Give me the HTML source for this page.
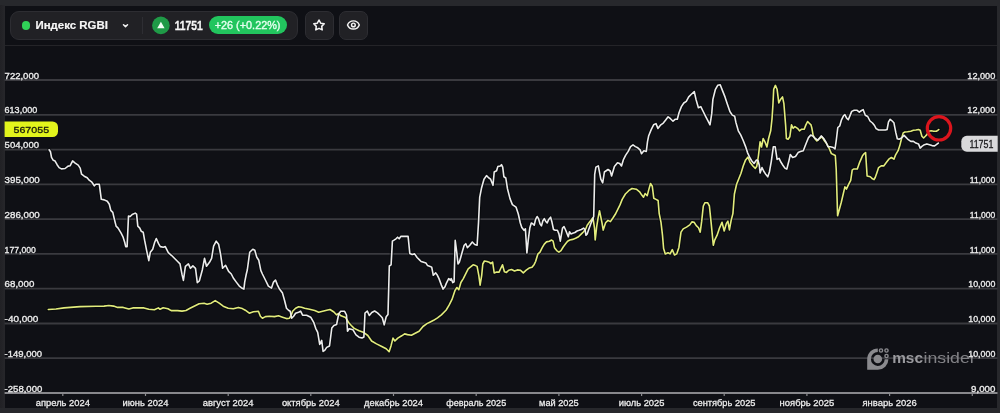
<!DOCTYPE html>
<html><head><meta charset="utf-8"><style>
*{margin:0;padding:0;box-sizing:border-box}
html,body{width:1000px;height:413px;overflow:hidden;background:#27282c}
.lf{position:absolute;left:0;top:5px;width:4.6px;height:403px;background:linear-gradient(to right,#212125,#242428 60%,#27272b)}
body{position:relative;font-family:"Liberation Sans",Arial,sans-serif;color:#fff}
.panel{position:absolute;left:4.6px;top:5.5px;width:992.9px;height:402.3px;background:#0f1015}
.hline{position:absolute;left:4.6px;top:44.6px;width:992.9px;height:1.6px;background:#242428}
.pill{position:absolute;left:10px;top:11px;width:288px;height:28.5px;border-radius:9px;background:#212125;border:1px solid #2d2d32}
.btn{position:absolute;top:11px;width:29px;height:28.5px;border-radius:7px;background:#212125;border:1px solid #2d2d32}
.dot{position:absolute;left:22.2px;top:21.4px;width:8.2px;height:8.2px;border-radius:50%;background:#30d158}
.div{position:absolute;left:142.3px;top:17px;width:1px;height:16.5px;background:#2e2e33}
.badge{position:absolute;left:208.7px;top:16.4px;width:78.2px;height:17.8px;border-radius:9px;background:#22c55e}
svg{position:absolute;left:0;top:0}
.g{stroke:#3a3a3f;stroke-width:1.8}
.ax{stroke:#88888c;stroke-width:1.8}
.tk{stroke:#8a8a8e;stroke-width:1.2}
text{font-family:"Liberation Sans",Arial,sans-serif}
.yl{font-size:9.9px;fill:#ececec;stroke:#ececec;stroke-width:0.35px}
.xl{font-size:9.9px;fill:#ececec;stroke:#ececec;stroke-width:0.3px}
.hb{font-weight:bold;fill:#f6f6f6}
</style></head><body>
<div class="lf"></div>
<div class="panel"></div>
<div class="hline"></div>
<div class="pill"></div>
<div class="dot"></div>
<div class="div"></div>
<div class="badge"></div>
<div class="btn" style="left:305px"></div>
<div class="btn" style="left:339px"></div>
<svg width="1000" height="413" viewBox="0 0 1000 413">
<text x="35.5" y="29.3" class="hb" style="font-size:11.6px;stroke:#f6f6f6;stroke-width:0.2px" textLength="72.4" lengthAdjust="spacingAndGlyphs">Индекс RGBI</text>
<path d="M123.5 24.7L125.5 26.6L127.5 24.7" fill="none" stroke="#f4f4f4" stroke-width="1.5" stroke-linecap="round" stroke-linejoin="round"/>
<circle cx="160.9" cy="25.4" r="8.8" fill="#1f9a47"/>
<path d="M160.9 21.8L164.6 28.2L157.2 28.2Z" fill="#f2fff5"/>
<text x="174.7" y="29.6" class="hb" style="font-size:12.2px;stroke:#f6f6f6;stroke-width:0.3px" textLength="28" lengthAdjust="spacingAndGlyphs">11751</text>
<text x="214.7" y="29.2" style="font-size:11.2px;fill:#e6fff0;stroke:#e6fff0;stroke-width:0.35px" textLength="65.8" lengthAdjust="spacingAndGlyphs">+26 (+0.22%)</text>
<path d="M319.00 20.00L320.68 23.19L324.23 23.80L321.71 26.38L322.23 29.95L319.00 28.35L315.77 29.95L316.29 26.38L313.77 23.80L317.32 23.19Z" fill="none" stroke="#f4f4f4" stroke-width="1.5" stroke-linejoin="round"/>
<path d="M347.5 24.95C348.5 22.4 350.7 20.85 353.4 20.85C356.1 20.85 358.3 22.4 359.3 24.95C358.3 27.5 356.1 29.05 353.4 29.05C350.7 29.05 348.5 27.5 347.5 24.95Z" fill="none" stroke="#f4f4f4" stroke-width="1.45" stroke-linejoin="round"/>
<circle cx="353.4" cy="24.95" r="1.85" fill="none" stroke="#f4f4f4" stroke-width="1.45"/>
</svg>
<svg width="1000" height="413" viewBox="0 0 1000 413">
<line x1="4.6" x2="997.5" y1="80.0" y2="80.0" class="g"/><line x1="4.6" x2="997.5" y1="114.8" y2="114.8" class="g"/><line x1="4.6" x2="997.5" y1="149.6" y2="149.6" class="g"/><line x1="4.6" x2="997.5" y1="184.3" y2="184.3" class="g"/><line x1="4.6" x2="997.5" y1="219.1" y2="219.1" class="g"/><line x1="4.6" x2="997.5" y1="253.9" y2="253.9" class="g"/><line x1="4.6" x2="997.5" y1="288.7" y2="288.7" class="g"/><line x1="4.6" x2="997.5" y1="323.5" y2="323.5" class="g"/><line x1="4.6" x2="997.5" y1="358.2" y2="358.2" class="g"/>
<line x1="4.6" x2="997.5" y1="393.0" y2="393.0" class="ax"/><line x1="62.8" x2="62.8" y1="393.0" y2="396.0" class="tk"/><line x1="145.5" x2="145.5" y1="393.0" y2="396.0" class="tk"/><line x1="228.2" x2="228.2" y1="393.0" y2="396.0" class="tk"/><line x1="310.8" x2="310.8" y1="393.0" y2="396.0" class="tk"/><line x1="393.5" x2="393.5" y1="393.0" y2="396.0" class="tk"/><line x1="476.2" x2="476.2" y1="393.0" y2="396.0" class="tk"/><line x1="558.9" x2="558.9" y1="393.0" y2="396.0" class="tk"/><line x1="641.6" x2="641.6" y1="393.0" y2="396.0" class="tk"/><line x1="724.2" x2="724.2" y1="393.0" y2="396.0" class="tk"/><line x1="806.9" x2="806.9" y1="393.0" y2="396.0" class="tk"/><line x1="889.6" x2="889.6" y1="393.0" y2="396.0" class="tk"/><line x1="972.3" x2="972.3" y1="393.0" y2="396.0" class="tk"/>
<g fill="#8a8a8e">
<path d="M877.8 348.4A10.6 10.6 0 0 0 867.2 359L867.2 369.8L877.8 369.8A10.6 10.6 0 0 0 888.4 359.2L884.7 359.2A6.9 6.9 0 1 1 877.8 352.1Z"/>
<circle cx="877.8" cy="359" r="4.3"/>
<g fill="none" stroke="#8a8a8e" stroke-width="1.4"><circle cx="881" cy="350.5" r="1.6"/><circle cx="886.5" cy="350.5" r="1.6"/><circle cx="886.5" cy="356" r="1.6"/></g>
<text x="892.2" y="363.3" style="font-size:15.5px;font-weight:bold;fill:#9a9a9e" textLength="30.8" lengthAdjust="spacingAndGlyphs">msc</text><text x="923.6" y="363.3" style="font-size:15.5px;fill:#828286" textLength="52" lengthAdjust="spacingAndGlyphs">insider</text>
</g>
<path d="M48.3 309.5L56.0 309.0L64.0 307.9L80.0 306.6L96.0 306.3L104.0 306.1L108.8 305.5L113.6 306.1L117.6 307.4L123.2 307.4L128.8 309.0L132.8 307.9L144.0 307.9L148.8 309.3L154.4 309.8L158.4 307.9L160.0 309.3L163.2 307.7L168.0 308.7L171.2 310.6L177.6 310.6L182.0 311.1L186.0 310.5L190.0 308.3L194.1 306.2L199.1 303.8L204.1 303.2L207.1 304.2L211.2 303.2L215.2 300.6L219.2 303.2L223.2 306.2L228.2 308.2L233.3 308.8L238.3 307.4L242.3 308.6L245.3 310.2L249.3 313.2L253.4 311.8L258.4 311.2L260.4 316.2L262.4 318.2L265.4 316.6L269.4 316.2L274.5 316.6L278.5 315.8L282.5 317.2L286.5 318.6L289.5 318.2L291.2 315.2L292.6 311.2L295.6 308.2L298.6 306.8L301.6 307.2L304.6 308.2L309.6 309.2L314.7 310.6L318.7 312.2L322.7 311.2L326.7 310.2L330.0 309.5L333.9 312.0L336.5 314.8L338.5 313.5L341.0 315.8L345.6 317.5L348.6 322.5L351.3 325.5L354.2 328.4L359.1 330.8L363.9 332.6L367.8 335.5L371.6 341.0L376.5 343.9L381.3 346.2L386.2 348.8L389.1 351.7L391.0 345.9L393.0 338.1L394.9 341.0L397.8 338.1L401.7 335.8L404.6 333.9L407.5 334.6L411.4 335.2L415.2 333.3L419.1 331.3L423.0 326.5L426.9 323.6L429.8 322.2L433.6 320.3L437.5 317.8L441.4 314.9L446.2 310.0L449.1 305.2L452.0 299.4L454.9 290.7L456.9 287.5L458.8 289.7L460.9 282.5L463.3 278.6L465.8 273.7L468.2 268.8L470.6 266.9L473.1 264.8L475.5 265.6L477.1 266.4L478.8 275.3L480.1 285.1L481.7 275.3L482.8 264.0L484.4 261.0L486.9 261.5L489.3 262.3L490.9 263.6L492.6 262.0L494.2 272.9L496.6 272.1L499.1 272.1L500.7 268.5L502.5 264.8L504.4 271.7L506.5 272.4L508.7 270.2L511.6 269.5L514.5 271.0L517.4 269.9L520.3 270.2L523.3 272.8L526.2 270.2L529.1 268.1L532.0 267.3L534.2 264.4L535.6 261.5L537.8 254.2L540.0 252.1L542.2 247.7L544.3 244.1L546.5 241.9L549.4 241.2L551.6 240.0L553.1 241.2L554.5 247.7L556.7 250.6L558.9 252.1L561.0 250.6L563.2 247.0L565.4 244.1L567.6 241.2L569.8 240.0L572.7 239.4L575.6 238.3L578.5 236.8L581.4 233.9L583.6 231.7L585.8 228.8L587.2 225.2L589.4 222.3L591.6 219.4L593.0 217.9L594.5 228.1L595.2 240.0L596.7 226.6L598.1 217.9L599.5 210.7L602.0 222.8L603.2 230.1L605.6 222.8L608.0 220.4L610.4 221.6L612.9 218.0L615.3 214.3L618.9 207.1L620.0 204.9L622.2 199.4L625.4 194.0L628.7 190.7L632.0 188.5L636.3 189.2L639.6 191.8L641.8 195.1L643.5 197.2L645.1 193.5L647.2 195.7L648.8 189.6L650.5 183.5L652.3 186.3L653.8 198.3L656.0 199.4L658.1 200.5L659.2 213.6L661.0 222.3L662.5 235.4L663.6 248.5L665.3 253.9L668.0 252.8L670.1 253.9L672.3 249.6L674.5 255.0L676.7 253.9L678.9 247.4L681.0 232.1L683.2 228.9L686.5 227.1L689.8 224.9L691.9 221.9L694.1 222.3L696.3 225.6L698.5 227.8L700.2 232.1L701.7 221.2L703.3 206.0L705.0 202.7L707.6 202.7L709.4 206.0L711.1 222.3L713.3 245.2L714.8 239.8L717.0 235.4L719.2 228.9L722.0 222.3L724.2 231.0L726.4 223.4L727.9 221.2L729.4 229.9L731.2 220.1L732.9 213.6L734.4 194.0L736.6 184.2L738.8 178.7L741.0 173.3L743.2 166.0L745.6 159.9L748.0 157.0L750.0 162.3L752.9 166.0L755.3 168.4L756.8 166.2L758.4 156.0L760.1 141.7L761.5 147.0L763.2 138.5L765.3 142.7L766.9 147.0L768.6 138.5L770.7 130.8L772.0 119.0L772.9 105.4L773.7 89.3L775.4 85.4L777.1 89.3L778.8 102.9L780.5 99.5L782.5 96.9L783.9 103.7L785.6 124.9L786.4 138.5L788.1 139.3L789.8 136.8L791.5 124.9L793.2 128.3L794.9 126.6L797.5 128.3L799.5 130.8L801.7 129.2L804.2 129.2L805.9 124.9L807.6 121.5L809.3 123.2L811.0 124.9L811.9 128.3L813.1 135.1L814.7 138.5L816.9 141.0L819.5 138.5L822.0 136.8L824.6 141.0L827.1 144.4L829.2 148.5L831.4 153.6L833.3 154.5L835.3 155.5L836.2 169.1L837.6 215.7L841.3 202.2L844.9 186.9L846.4 189.1L848.5 184.7L850.7 180.3L852.2 170.2L853.6 169.0L857.3 169.0L859.4 162.9L861.4 158.4L862.5 155.8L864.3 153.6L865.6 152.5L867.1 176.0L870.3 176.7L872.5 178.9L874.0 179.6L875.2 177.5L876.9 172.7L878.6 167.6L881.2 165.9L883.7 165.9L886.3 162.5L888.8 159.2L891.4 157.5L893.9 159.2L895.6 154.9L898.1 150.7L899.8 145.6L901.5 138.8L903.2 132.9L904.9 132.0L907.5 131.7L910.8 131.2L913.4 130.3L915.9 130.0L918.5 129.5L920.2 130.3L921.9 136.3L923.6 138.0L925.3 136.3L926.9 134.6L928.6 131.2L931.2 130.7L933.7 131.2L936.3 131.2L938.0 130.3L938.8 129.5" fill="none" stroke="#06070a" stroke-opacity="0.55" stroke-width="4" stroke-linejoin="round" stroke-linecap="round"/>
<path d="M49.1 149.8L50.5 151.8L51.5 157.4L53.3 160.3L55.1 161.1L57.1 164.7L59.1 167.6L61.4 168.9L65.1 168.5L68.1 166.1L70.2 165.7L72.6 160.9L75.2 163.1L78.2 165.1L80.2 168.1L81.6 174.2L84.2 176.2L87.2 177.8L89.2 180.2L91.9 182.2L94.3 185.8L95.9 184.2L99.3 184.2L101.3 199.3L104.3 199.9L107.3 201.3L109.3 204.3L110.8 210.4L112.8 212.4L114.1 218.1L116.1 226.1L118.1 228.1L121.1 233.2L123.1 237.2L124.7 242.2L125.7 246.6L127.1 246.6L128.5 216.1L130.2 216.5L132.2 214.5L135.2 213.1L136.6 214.1L137.8 226.1L139.8 228.1L141.2 231.2L143.2 232.2L144.6 240.2L146.6 250.3L148.8 260.7L150.3 252.3L152.7 249.2L154.7 242.2L156.3 238.6L158.7 243.8L160.3 246.6L163.3 247.2L165.3 246.6L168.3 252.7L171.4 255.3L174.4 258.3L177.4 261.3L180.0 263.9L182.0 274.4L183.4 280.4L185.4 266.3L188.4 263.9L190.5 268.3L192.9 265.9L195.5 268.3L197.3 282.6L199.3 281.0L202.3 270.0L204.5 258.3L206.5 266.3L209.5 262.3L211.6 258.3L213.6 246.2L216.2 241.2L218.6 244.2L220.6 254.3L222.6 268.3L225.6 265.3L228.6 271.4L231.3 274.0L233.3 278.0L236.3 282.1L239.3 286.1L241.3 287.7L243.9 289.1L244.7 282.1L246.3 274.0L247.3 270.0L249.7 252.3L252.8 249.2L254.8 250.3L256.8 257.3L258.8 260.3L260.8 270.4L262.4 274.0L265.4 280.0L268.4 286.1L271.5 288.1L273.5 282.1L275.5 280.0L277.5 285.1L279.5 289.1L282.5 293.1L284.5 300.2L286.5 308.2L288.5 310.2L290.2 311.2L291.6 318.2L293.6 316.2L295.6 313.2L298.6 312.2L300.6 311.2L302.6 315.2L306.6 315.2L310.7 317.2L313.7 322.3L315.7 328.3L317.7 332.3L319.7 344.4L321.7 340.4L323.1 351.4L324.7 350.4L326.7 347.4L329.5 346.0L331.8 328.0L333.9 325.5L336.6 324.5L338.7 314.0L340.7 311.3L344.6 311.3L346.5 315.0L347.5 331.3L349.1 328.8L353.0 329.8L356.0 334.8L359.0 337.2L362.0 338.0L363.9 337.0L365.0 313.0L367.3 311.1L369.3 315.5L371.8 312.5L374.6 311.0L377.5 312.9L380.4 315.8L382.3 317.8L384.2 324.9L386.2 316.8L388.0 314.5L389.3 266.0L391.1 264.8L392.4 241.2L394.4 239.9L396.0 238.8L397.6 237.2L399.2 238.8L400.8 236.4L404.1 236.4L408.1 236.4L409.8 253.4L412.2 254.5L414.6 253.9L417.1 257.5L419.5 259.9L421.1 261.5L423.6 262.3L426.0 263.1L427.6 265.6L430.1 266.4L431.7 267.2L433.3 275.3L435.7 272.9L437.4 275.3L439.0 278.6L441.4 285.1L443.1 289.1L445.0 286.7L446.3 283.4L448.7 278.6L450.4 280.2L451.2 278.6L452.8 282.6L454.1 281.8L455.2 240.4L456.8 252.6L458.0 264.0L459.3 262.3L460.9 256.7L462.5 251.0L464.2 245.3L465.8 243.7L467.4 247.7L469.8 245.3L472.3 242.0L474.7 244.5L477.1 245.3L478.5 222.8L479.7 197.4L481.6 187.7L484.0 179.2L486.5 175.6L488.9 178.0L490.6 179.2L493.0 185.3L494.2 172.0L496.6 170.7L497.8 166.6L500.3 165.9L501.5 164.7L502.7 167.1L503.9 176.8L505.8 178.0L507.5 188.9L510.0 198.6L512.4 204.6L516.0 207.1L518.3 214.0L520.3 223.0L521.8 227.4L524.0 230.3L525.4 228.8L526.9 253.0L528.3 239.7L529.8 228.1L531.3 223.0L532.7 223.7L534.2 225.2L535.6 219.4L537.1 216.5L538.5 218.6L540.0 223.7L541.4 225.9L542.9 220.8L544.3 218.6L545.8 221.5L547.2 223.0L548.7 219.4L550.6 217.2L552.0 222.3L553.5 229.5L555.2 230.3L557.4 230.3L558.9 233.9L560.3 241.2L561.0 236.8L562.5 228.1L564.0 226.6L565.4 229.5L566.9 233.2L568.3 236.8L569.5 231.7L570.9 233.9L572.7 233.2L574.9 232.5L577.0 231.0L579.2 230.3L581.4 229.5L583.6 228.1L585.0 229.5L586.0 235.3L587.2 233.9L588.7 229.5L590.8 223.7L592.3 220.1L593.7 216.5L594.7 174.4L595.9 167.1L598.3 165.9L600.8 179.2L602.7 182.8L604.4 172.0L608.0 169.5L610.2 171.0L611.6 176.0L614.4 166.5L617.5 162.8L619.7 163.5L621.5 166.0L623.3 159.9L625.7 155.1L628.2 151.4L630.6 146.6L633.0 144.9L635.4 146.6L637.8 147.8L640.3 150.2L641.5 153.8L643.9 150.7L646.3 151.4L647.5 141.7L648.7 135.7L651.2 129.6L653.6 124.8L656.0 123.6L657.9 128.4L660.8 124.8L663.3 123.1L665.7 120.0L668.1 116.8L670.5 118.7L673.0 121.2L675.4 119.2L677.3 119.2L679.0 112.7L681.4 106.6L683.8 103.0L686.3 101.3L688.7 96.9L691.1 94.5L694.3 91.6L696.0 99.4L698.4 107.8L700.8 106.6L703.2 111.5L705.6 116.3L708.1 121.2L710.0 124.8L711.7 113.9L712.9 99.4L715.3 89.7L717.7 85.3L720.2 84.8L722.6 90.9L725.0 96.9L727.4 104.2L729.9 111.5L732.3 115.1L734.7 116.3L735.9 122.4L738.3 130.8L740.8 135.2L743.2 140.5L745.6 146.6L747.5 152.6L750.0 158.0L751.8 161.0L754.0 163.5L756.5 160.0L758.0 160.5L759.3 165.2L760.1 173.0L762.0 167.5L763.6 171.0L765.5 173.9L767.8 176.8L769.4 172.0L771.3 161.3L773.3 146.8L775.2 146.8L777.1 159.4L779.1 158.4L781.0 162.3L782.9 165.2L784.9 168.1L786.8 169.1L788.8 161.3L790.3 154.5L792.6 157.4L795.5 156.5L798.1 152.6L800.4 151.6L803.3 150.7L805.2 145.8L806.5 142.5L808.5 137.6L810.7 135.1L812.7 135.9L815.3 138.5L817.8 140.2L821.2 135.9L823.7 138.5L826.3 142.7L828.0 146.8L830.4 146.8L833.3 147.5L835.0 149.0L836.4 139.3L837.8 127.5L839.8 125.8L841.5 119.8L843.6 115.6L844.9 114.7L846.6 118.1L848.3 119.8L850.0 115.6L851.7 111.4L854.2 110.2L856.8 110.2L859.3 112.2L861.5 110.5L863.2 109.7L865.3 115.2L867.7 116.5L870.0 121.0L872.5 123.0L874.5 125.5L876.1 128.6L878.6 130.0L882.0 130.0L885.4 130.0L887.1 129.5L888.5 121.9L890.2 119.3L892.2 121.0L893.9 122.7L894.7 126.9L895.9 132.9L897.3 138.8L899.0 139.2L901.5 138.0L904.1 135.4L905.8 137.1L908.3 139.7L910.8 141.4L913.4 141.4L915.9 143.1L918.5 143.9L920.2 148.1L921.9 146.4L924.4 144.7L926.9 143.9L929.5 144.7L932.0 145.6L934.6 145.9L936.3 144.7L938.3 143.1" fill="none" stroke="#06070a" stroke-opacity="0.55" stroke-width="4" stroke-linejoin="round" stroke-linecap="round"/>
<path d="M48.3 309.5L56.0 309.0L64.0 307.9L80.0 306.6L96.0 306.3L104.0 306.1L108.8 305.5L113.6 306.1L117.6 307.4L123.2 307.4L128.8 309.0L132.8 307.9L144.0 307.9L148.8 309.3L154.4 309.8L158.4 307.9L160.0 309.3L163.2 307.7L168.0 308.7L171.2 310.6L177.6 310.6L182.0 311.1L186.0 310.5L190.0 308.3L194.1 306.2L199.1 303.8L204.1 303.2L207.1 304.2L211.2 303.2L215.2 300.6L219.2 303.2L223.2 306.2L228.2 308.2L233.3 308.8L238.3 307.4L242.3 308.6L245.3 310.2L249.3 313.2L253.4 311.8L258.4 311.2L260.4 316.2L262.4 318.2L265.4 316.6L269.4 316.2L274.5 316.6L278.5 315.8L282.5 317.2L286.5 318.6L289.5 318.2L291.2 315.2L292.6 311.2L295.6 308.2L298.6 306.8L301.6 307.2L304.6 308.2L309.6 309.2L314.7 310.6L318.7 312.2L322.7 311.2L326.7 310.2L330.0 309.5L333.9 312.0L336.5 314.8L338.5 313.5L341.0 315.8L345.6 317.5L348.6 322.5L351.3 325.5L354.2 328.4L359.1 330.8L363.9 332.6L367.8 335.5L371.6 341.0L376.5 343.9L381.3 346.2L386.2 348.8L389.1 351.7L391.0 345.9L393.0 338.1L394.9 341.0L397.8 338.1L401.7 335.8L404.6 333.9L407.5 334.6L411.4 335.2L415.2 333.3L419.1 331.3L423.0 326.5L426.9 323.6L429.8 322.2L433.6 320.3L437.5 317.8L441.4 314.9L446.2 310.0L449.1 305.2L452.0 299.4L454.9 290.7L456.9 287.5L458.8 289.7L460.9 282.5L463.3 278.6L465.8 273.7L468.2 268.8L470.6 266.9L473.1 264.8L475.5 265.6L477.1 266.4L478.8 275.3L480.1 285.1L481.7 275.3L482.8 264.0L484.4 261.0L486.9 261.5L489.3 262.3L490.9 263.6L492.6 262.0L494.2 272.9L496.6 272.1L499.1 272.1L500.7 268.5L502.5 264.8L504.4 271.7L506.5 272.4L508.7 270.2L511.6 269.5L514.5 271.0L517.4 269.9L520.3 270.2L523.3 272.8L526.2 270.2L529.1 268.1L532.0 267.3L534.2 264.4L535.6 261.5L537.8 254.2L540.0 252.1L542.2 247.7L544.3 244.1L546.5 241.9L549.4 241.2L551.6 240.0L553.1 241.2L554.5 247.7L556.7 250.6L558.9 252.1L561.0 250.6L563.2 247.0L565.4 244.1L567.6 241.2L569.8 240.0L572.7 239.4L575.6 238.3L578.5 236.8L581.4 233.9L583.6 231.7L585.8 228.8L587.2 225.2L589.4 222.3L591.6 219.4L593.0 217.9L594.5 228.1L595.2 240.0L596.7 226.6L598.1 217.9L599.5 210.7L602.0 222.8L603.2 230.1L605.6 222.8L608.0 220.4L610.4 221.6L612.9 218.0L615.3 214.3L618.9 207.1L620.0 204.9L622.2 199.4L625.4 194.0L628.7 190.7L632.0 188.5L636.3 189.2L639.6 191.8L641.8 195.1L643.5 197.2L645.1 193.5L647.2 195.7L648.8 189.6L650.5 183.5L652.3 186.3L653.8 198.3L656.0 199.4L658.1 200.5L659.2 213.6L661.0 222.3L662.5 235.4L663.6 248.5L665.3 253.9L668.0 252.8L670.1 253.9L672.3 249.6L674.5 255.0L676.7 253.9L678.9 247.4L681.0 232.1L683.2 228.9L686.5 227.1L689.8 224.9L691.9 221.9L694.1 222.3L696.3 225.6L698.5 227.8L700.2 232.1L701.7 221.2L703.3 206.0L705.0 202.7L707.6 202.7L709.4 206.0L711.1 222.3L713.3 245.2L714.8 239.8L717.0 235.4L719.2 228.9L722.0 222.3L724.2 231.0L726.4 223.4L727.9 221.2L729.4 229.9L731.2 220.1L732.9 213.6L734.4 194.0L736.6 184.2L738.8 178.7L741.0 173.3L743.2 166.0L745.6 159.9L748.0 157.0L750.0 162.3L752.9 166.0L755.3 168.4L756.8 166.2L758.4 156.0L760.1 141.7L761.5 147.0L763.2 138.5L765.3 142.7L766.9 147.0L768.6 138.5L770.7 130.8L772.0 119.0L772.9 105.4L773.7 89.3L775.4 85.4L777.1 89.3L778.8 102.9L780.5 99.5L782.5 96.9L783.9 103.7L785.6 124.9L786.4 138.5L788.1 139.3L789.8 136.8L791.5 124.9L793.2 128.3L794.9 126.6L797.5 128.3L799.5 130.8L801.7 129.2L804.2 129.2L805.9 124.9L807.6 121.5L809.3 123.2L811.0 124.9L811.9 128.3L813.1 135.1L814.7 138.5L816.9 141.0L819.5 138.5L822.0 136.8L824.6 141.0L827.1 144.4L829.2 148.5L831.4 153.6L833.3 154.5L835.3 155.5L836.2 169.1L837.6 215.7L841.3 202.2L844.9 186.9L846.4 189.1L848.5 184.7L850.7 180.3L852.2 170.2L853.6 169.0L857.3 169.0L859.4 162.9L861.4 158.4L862.5 155.8L864.3 153.6L865.6 152.5L867.1 176.0L870.3 176.7L872.5 178.9L874.0 179.6L875.2 177.5L876.9 172.7L878.6 167.6L881.2 165.9L883.7 165.9L886.3 162.5L888.8 159.2L891.4 157.5L893.9 159.2L895.6 154.9L898.1 150.7L899.8 145.6L901.5 138.8L903.2 132.9L904.9 132.0L907.5 131.7L910.8 131.2L913.4 130.3L915.9 130.0L918.5 129.5L920.2 130.3L921.9 136.3L923.6 138.0L925.3 136.3L926.9 134.6L928.6 131.2L931.2 130.7L933.7 131.2L936.3 131.2L938.0 130.3L938.8 129.5" fill="none" stroke="#e2ec7c" stroke-width="1.6" stroke-linejoin="round" stroke-linecap="round"/>
<path d="M49.1 149.8L50.5 151.8L51.5 157.4L53.3 160.3L55.1 161.1L57.1 164.7L59.1 167.6L61.4 168.9L65.1 168.5L68.1 166.1L70.2 165.7L72.6 160.9L75.2 163.1L78.2 165.1L80.2 168.1L81.6 174.2L84.2 176.2L87.2 177.8L89.2 180.2L91.9 182.2L94.3 185.8L95.9 184.2L99.3 184.2L101.3 199.3L104.3 199.9L107.3 201.3L109.3 204.3L110.8 210.4L112.8 212.4L114.1 218.1L116.1 226.1L118.1 228.1L121.1 233.2L123.1 237.2L124.7 242.2L125.7 246.6L127.1 246.6L128.5 216.1L130.2 216.5L132.2 214.5L135.2 213.1L136.6 214.1L137.8 226.1L139.8 228.1L141.2 231.2L143.2 232.2L144.6 240.2L146.6 250.3L148.8 260.7L150.3 252.3L152.7 249.2L154.7 242.2L156.3 238.6L158.7 243.8L160.3 246.6L163.3 247.2L165.3 246.6L168.3 252.7L171.4 255.3L174.4 258.3L177.4 261.3L180.0 263.9L182.0 274.4L183.4 280.4L185.4 266.3L188.4 263.9L190.5 268.3L192.9 265.9L195.5 268.3L197.3 282.6L199.3 281.0L202.3 270.0L204.5 258.3L206.5 266.3L209.5 262.3L211.6 258.3L213.6 246.2L216.2 241.2L218.6 244.2L220.6 254.3L222.6 268.3L225.6 265.3L228.6 271.4L231.3 274.0L233.3 278.0L236.3 282.1L239.3 286.1L241.3 287.7L243.9 289.1L244.7 282.1L246.3 274.0L247.3 270.0L249.7 252.3L252.8 249.2L254.8 250.3L256.8 257.3L258.8 260.3L260.8 270.4L262.4 274.0L265.4 280.0L268.4 286.1L271.5 288.1L273.5 282.1L275.5 280.0L277.5 285.1L279.5 289.1L282.5 293.1L284.5 300.2L286.5 308.2L288.5 310.2L290.2 311.2L291.6 318.2L293.6 316.2L295.6 313.2L298.6 312.2L300.6 311.2L302.6 315.2L306.6 315.2L310.7 317.2L313.7 322.3L315.7 328.3L317.7 332.3L319.7 344.4L321.7 340.4L323.1 351.4L324.7 350.4L326.7 347.4L329.5 346.0L331.8 328.0L333.9 325.5L336.6 324.5L338.7 314.0L340.7 311.3L344.6 311.3L346.5 315.0L347.5 331.3L349.1 328.8L353.0 329.8L356.0 334.8L359.0 337.2L362.0 338.0L363.9 337.0L365.0 313.0L367.3 311.1L369.3 315.5L371.8 312.5L374.6 311.0L377.5 312.9L380.4 315.8L382.3 317.8L384.2 324.9L386.2 316.8L388.0 314.5L389.3 266.0L391.1 264.8L392.4 241.2L394.4 239.9L396.0 238.8L397.6 237.2L399.2 238.8L400.8 236.4L404.1 236.4L408.1 236.4L409.8 253.4L412.2 254.5L414.6 253.9L417.1 257.5L419.5 259.9L421.1 261.5L423.6 262.3L426.0 263.1L427.6 265.6L430.1 266.4L431.7 267.2L433.3 275.3L435.7 272.9L437.4 275.3L439.0 278.6L441.4 285.1L443.1 289.1L445.0 286.7L446.3 283.4L448.7 278.6L450.4 280.2L451.2 278.6L452.8 282.6L454.1 281.8L455.2 240.4L456.8 252.6L458.0 264.0L459.3 262.3L460.9 256.7L462.5 251.0L464.2 245.3L465.8 243.7L467.4 247.7L469.8 245.3L472.3 242.0L474.7 244.5L477.1 245.3L478.5 222.8L479.7 197.4L481.6 187.7L484.0 179.2L486.5 175.6L488.9 178.0L490.6 179.2L493.0 185.3L494.2 172.0L496.6 170.7L497.8 166.6L500.3 165.9L501.5 164.7L502.7 167.1L503.9 176.8L505.8 178.0L507.5 188.9L510.0 198.6L512.4 204.6L516.0 207.1L518.3 214.0L520.3 223.0L521.8 227.4L524.0 230.3L525.4 228.8L526.9 253.0L528.3 239.7L529.8 228.1L531.3 223.0L532.7 223.7L534.2 225.2L535.6 219.4L537.1 216.5L538.5 218.6L540.0 223.7L541.4 225.9L542.9 220.8L544.3 218.6L545.8 221.5L547.2 223.0L548.7 219.4L550.6 217.2L552.0 222.3L553.5 229.5L555.2 230.3L557.4 230.3L558.9 233.9L560.3 241.2L561.0 236.8L562.5 228.1L564.0 226.6L565.4 229.5L566.9 233.2L568.3 236.8L569.5 231.7L570.9 233.9L572.7 233.2L574.9 232.5L577.0 231.0L579.2 230.3L581.4 229.5L583.6 228.1L585.0 229.5L586.0 235.3L587.2 233.9L588.7 229.5L590.8 223.7L592.3 220.1L593.7 216.5L594.7 174.4L595.9 167.1L598.3 165.9L600.8 179.2L602.7 182.8L604.4 172.0L608.0 169.5L610.2 171.0L611.6 176.0L614.4 166.5L617.5 162.8L619.7 163.5L621.5 166.0L623.3 159.9L625.7 155.1L628.2 151.4L630.6 146.6L633.0 144.9L635.4 146.6L637.8 147.8L640.3 150.2L641.5 153.8L643.9 150.7L646.3 151.4L647.5 141.7L648.7 135.7L651.2 129.6L653.6 124.8L656.0 123.6L657.9 128.4L660.8 124.8L663.3 123.1L665.7 120.0L668.1 116.8L670.5 118.7L673.0 121.2L675.4 119.2L677.3 119.2L679.0 112.7L681.4 106.6L683.8 103.0L686.3 101.3L688.7 96.9L691.1 94.5L694.3 91.6L696.0 99.4L698.4 107.8L700.8 106.6L703.2 111.5L705.6 116.3L708.1 121.2L710.0 124.8L711.7 113.9L712.9 99.4L715.3 89.7L717.7 85.3L720.2 84.8L722.6 90.9L725.0 96.9L727.4 104.2L729.9 111.5L732.3 115.1L734.7 116.3L735.9 122.4L738.3 130.8L740.8 135.2L743.2 140.5L745.6 146.6L747.5 152.6L750.0 158.0L751.8 161.0L754.0 163.5L756.5 160.0L758.0 160.5L759.3 165.2L760.1 173.0L762.0 167.5L763.6 171.0L765.5 173.9L767.8 176.8L769.4 172.0L771.3 161.3L773.3 146.8L775.2 146.8L777.1 159.4L779.1 158.4L781.0 162.3L782.9 165.2L784.9 168.1L786.8 169.1L788.8 161.3L790.3 154.5L792.6 157.4L795.5 156.5L798.1 152.6L800.4 151.6L803.3 150.7L805.2 145.8L806.5 142.5L808.5 137.6L810.7 135.1L812.7 135.9L815.3 138.5L817.8 140.2L821.2 135.9L823.7 138.5L826.3 142.7L828.0 146.8L830.4 146.8L833.3 147.5L835.0 149.0L836.4 139.3L837.8 127.5L839.8 125.8L841.5 119.8L843.6 115.6L844.9 114.7L846.6 118.1L848.3 119.8L850.0 115.6L851.7 111.4L854.2 110.2L856.8 110.2L859.3 112.2L861.5 110.5L863.2 109.7L865.3 115.2L867.7 116.5L870.0 121.0L872.5 123.0L874.5 125.5L876.1 128.6L878.6 130.0L882.0 130.0L885.4 130.0L887.1 129.5L888.5 121.9L890.2 119.3L892.2 121.0L893.9 122.7L894.7 126.9L895.9 132.9L897.3 138.8L899.0 139.2L901.5 138.0L904.1 135.4L905.8 137.1L908.3 139.7L910.8 141.4L913.4 141.4L915.9 143.1L918.5 143.9L920.2 148.1L921.9 146.4L924.4 144.7L926.9 143.9L929.5 144.7L932.0 145.6L934.6 145.9L936.3 144.7L938.3 143.1" fill="none" stroke="#ececec" stroke-width="1.6" stroke-linejoin="round" stroke-linecap="round"/>
<circle cx="939" cy="128.3" r="11.7" fill="none" stroke="#dc151d" stroke-width="3.2"/>
<text x="4.6" y="78.6" class="yl" textLength="34.4" lengthAdjust="spacingAndGlyphs">722,000</text><text x="967.3" y="78.6" class="yl" textLength="28.0" lengthAdjust="spacingAndGlyphs">12,000</text><text x="4.6" y="113.4" class="yl" textLength="32.6" lengthAdjust="spacingAndGlyphs">613,000</text><text x="967.3" y="113.4" class="yl" textLength="28.0" lengthAdjust="spacingAndGlyphs">12,000</text><text x="4.6" y="148.2" class="yl" textLength="34.4" lengthAdjust="spacingAndGlyphs">504,000</text><text x="4.6" y="182.9" class="yl" textLength="35.1" lengthAdjust="spacingAndGlyphs">395,000</text><text x="969.8" y="182.9" class="yl" textLength="25.5" lengthAdjust="spacingAndGlyphs">11,000</text><text x="4.6" y="217.7" class="yl" textLength="35.1" lengthAdjust="spacingAndGlyphs">286,000</text><text x="969.8" y="217.7" class="yl" textLength="25.5" lengthAdjust="spacingAndGlyphs">11,000</text><text x="4.6" y="252.5" class="yl" textLength="31.2" lengthAdjust="spacingAndGlyphs">177,000</text><text x="969.8" y="252.5" class="yl" textLength="25.5" lengthAdjust="spacingAndGlyphs">11,000</text><text x="4.6" y="287.3" class="yl" textLength="29.7" lengthAdjust="spacingAndGlyphs">68,000</text><text x="968.3" y="287.3" class="yl" textLength="27.0" lengthAdjust="spacingAndGlyphs">10,000</text><text x="4.6" y="322.1" class="yl" textLength="33.8" lengthAdjust="spacingAndGlyphs">-40,000</text><text x="968.3" y="322.1" class="yl" textLength="27.0" lengthAdjust="spacingAndGlyphs">10,000</text><text x="4.6" y="356.8" class="yl" textLength="37.3" lengthAdjust="spacingAndGlyphs">-149,000</text><text x="968.3" y="356.8" class="yl" textLength="27.0" lengthAdjust="spacingAndGlyphs">10,000</text><text x="4.6" y="391.6" class="yl" textLength="37.7" lengthAdjust="spacingAndGlyphs">-258,000</text><text x="971.1" y="391.6" class="yl" textLength="24.2" lengthAdjust="spacingAndGlyphs">9,000</text><text x="35.8" y="405.8" class="xl" textLength="54.1" lengthAdjust="spacingAndGlyphs">апрель 2024</text><text x="122.6" y="405.8" class="xl" textLength="45.8" lengthAdjust="spacingAndGlyphs">июнь 2024</text><text x="202.7" y="405.8" class="xl" textLength="50.9" lengthAdjust="spacingAndGlyphs">август 2024</text><text x="281.9" y="405.8" class="xl" textLength="57.8" lengthAdjust="spacingAndGlyphs">октябрь 2024</text><text x="364.0" y="405.8" class="xl" textLength="59.0" lengthAdjust="spacingAndGlyphs">декабрь 2024</text><text x="446.2" y="405.8" class="xl" textLength="60.0" lengthAdjust="spacingAndGlyphs">февраль 2025</text><text x="539.1" y="405.8" class="xl" textLength="39.6" lengthAdjust="spacingAndGlyphs">май 2025</text><text x="618.7" y="405.8" class="xl" textLength="45.8" lengthAdjust="spacingAndGlyphs">июль 2025</text><text x="692.9" y="405.8" class="xl" textLength="62.6" lengthAdjust="spacingAndGlyphs">сентябрь 2025</text><text x="779.6" y="405.8" class="xl" textLength="54.7" lengthAdjust="spacingAndGlyphs">ноябрь 2025</text><text x="862.5" y="405.8" class="xl" textLength="54.2" lengthAdjust="spacingAndGlyphs">январь 2026</text>
<path d="M4.6 121.5H52.5A5.5 5.5 0 0 1 58 127V131.5A5.5 5.5 0 0 1 52.5 137H4.6Z" fill="#e2f41c"/>
<text x="13.5" y="133.1" style="font-size:9.9px;fill:#1a1c0a;stroke:#1a1c0a;stroke-width:0.3px" textLength="35.6" lengthAdjust="spacingAndGlyphs">567055</text>
<path d="M997.7 135.8H966.8A5.5 5.5 0 0 0 961.3 141.3V146.2A5.5 5.5 0 0 0 966.8 151.7H997.7Z" fill="#d9d9db"/>
<text x="969.4" y="147.8" style="font-size:10.6px;fill:#1a1a1c;stroke:#1a1a1c;stroke-width:0.3px" textLength="24" lengthAdjust="spacingAndGlyphs">11751</text>
</svg>
</body></html>
